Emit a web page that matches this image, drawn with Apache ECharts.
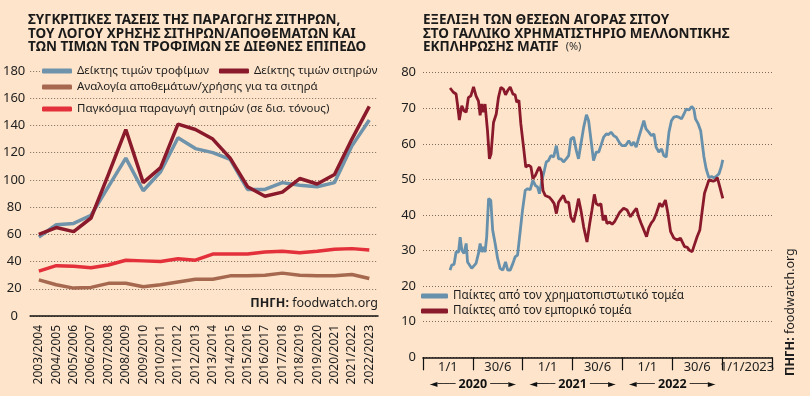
<!DOCTYPE html>
<html>
<head>
<meta charset="utf-8">
<script src="https://cdn.jsdelivr.net/npm/echarts@6/dist/echarts.min.js"></script>
<style>
html, body { margin: 0; background: #fde4ca; }
#main { width: 810px; height: 396px; }
</style>
</head>
<body>
<div id="main"></div>
<script>
// left chart: index values per season
var seasons = ['2003/2004', '2004/2005', '2005/2006', '2006/2007', '2007/2008', '2008/2009', '2009/2010',
	'2010/2011', '2011/2012', '2012/2013', '2013/2014', '2014/2015', '2015/2016', '2016/2017',
	'2017/2018', '2018/2019', '2019/2020', '2020/2021', '2021/2022', '2022/2023'];
var foodIndex = [58, 67, 68, 74, 95, 116, 92, 106, 131, 123, 120, 115, 93, 93, 98, 96, 95, 98, 125, 144];
var grainIndex = [60, 65, 62, 72, 104, 137, 98, 109, 141, 137, 130, 116, 95, 88, 91, 101, 97, 104, 130, 154];
var stocksRatio = [26.5, 23, 20.5, 21, 24, 24, 21.5, 23, 25, 27, 27, 29.5, 29.5, 30, 31.5, 30, 29.5, 29.5, 30.5, 27.5];
var production = [33, 37, 36.5, 35.5, 37.5, 41, 40.5, 40, 42, 41, 45.5, 45.5, 45.5, 47, 47.5, 46.5, 47.5, 49, 49.5, 48.5];

// right chart: days counted from 1/1/2020, share of positions (%)
var finDays = [99, 105, 114, 121, 130, 136, 142, 150, 158, 163, 170, 178, 185, 194, 203, 209, 215, 221, 227, 233,
	240, 248, 255, 264, 273, 282, 292, 302, 310, 319, 329, 337, 346, 356, 364, 374, 383, 392, 402, 411,
	419, 426, 435, 444, 451, 459, 468, 478, 488, 496, 505, 514, 524, 533, 541, 551, 561, 569, 578, 588,
	598, 606, 615, 624, 634, 643, 651, 661, 671, 679, 688, 698, 707, 720, 728, 741, 753, 763, 771, 780,
	790, 799, 808, 816, 826, 836, 845, 853, 863, 873, 881, 890, 900, 909, 918, 926, 936, 946, 955, 963,
	973, 983, 991, 997, 1007, 1016, 1022, 1028, 1036, 1046, 1056, 1064, 1073, 1083, 1091, 1097];
var finValues = [24.5, 25.9, 26.2, 29.6, 29.6, 33.8, 30.1, 29.2, 32, 26.8, 27.3, 25, 24.5, 26.4, 29.2, 32, 29.6, 31, 29.6, 33.8,
	44.6, 44.1, 35.7, 32, 27.8, 25, 24.5, 26.8, 24.5, 24.5, 26.4, 28.2, 28.7, 35.7, 41.3, 46.9, 47.4, 47.1, 49.7, 48.3,
	47.9, 46, 49.7, 52.5, 54.9, 55.3, 56.7, 56.3, 59.5, 55.8, 55.8, 54.9, 55.8, 56.7, 61.4, 61.9, 58.1, 55.8, 60, 64.7,
	68.2, 66.5, 60.9, 55.3, 57.7, 57.7, 59.5, 61.9, 62.8, 62.6, 63.3, 62.3, 61.9, 60.2, 59.5, 59.5, 60.9, 59.5, 60.5, 59.1,
	61.9, 64.2, 66.5, 64.2, 63.3, 62.3, 62.8, 59.1, 57.7, 58.6, 56.7, 56.3, 63.3, 66.5, 67.5, 67.7, 67.5, 67, 68.4, 69.8,
	69.5, 70.5, 69.8, 67, 65.6, 63.7, 60, 56.3, 53, 50.5, 50.8, 50.5, 50.8, 51.6, 53.5, 55.5];
var comDays = [99, 111, 121, 126, 133, 142, 150, 158, 166, 175, 185, 194, 203, 209, 215, 221, 227, 236, 243, 249,
	258, 268, 276, 285, 294, 302, 310, 319, 329, 337, 343, 351, 358, 368, 376, 386, 395, 402, 411, 419,
	426, 433, 439, 447, 453, 462, 472, 480, 488, 496, 505, 514, 523, 533, 541, 551, 561, 569, 578, 588,
	600, 610, 618, 627, 634, 643, 651, 659, 667, 673, 683, 692, 700, 710, 720, 734, 747, 759, 771, 781,
	789, 798, 808, 818, 826, 835, 844, 854, 866, 875, 887, 896, 906, 918, 930, 942, 949, 957, 967, 976,
	985, 993, 1003, 1013, 1022, 1030, 1040, 1046, 1052, 1062, 1070, 1077, 1086, 1097];
var comValues = [75.7, 74.5, 74, 71.2, 66.7, 70.7, 69.3, 68.9, 73, 73.5, 76, 73.5, 72, 68, 71.2, 68.9, 71.2, 63.7, 55.8, 57.2,
	66, 68.4, 73, 75.9, 75.4, 73.8, 75, 76, 74, 73.8, 71.7, 72.2, 65.6, 59, 53.5, 54, 53.5, 50.2, 51.1, 52.5,
	53.5, 52, 46.9, 45.5, 45.8, 45, 44.1, 43.2, 40.4, 43.6, 44.6, 45.5, 43.6, 43.6, 39.4, 38, 41.3, 44.6, 41.3, 36.6,
	32.4, 37.6, 41.3, 45.8, 43.2, 42.7, 43.2, 38.5, 39.9, 37.6, 38, 37.4, 38, 39.4, 40.8, 41.9, 41.4, 39.5, 40.9, 41.9,
	39.5, 37.7, 35.8, 33.9, 36.3, 37.7, 38.6, 40.5, 43.3, 42.3, 44.2, 40.5, 35.3, 33.5, 33, 33.5, 33.7, 31.1, 30.9, 30,
	29.7, 31.6, 33.9, 35.8, 41.4, 46.1, 48.4, 49.8, 49.3, 49.5, 49.8, 50.5, 47.9, 44.7];
var halfYearLabels = ['1/1', '30/6', '1/1', '30/6', '1/1', '30/6', '1/1/2023'];
var yearLabels = ['', '2020', '', '2021', '', '2022', '', ''];

var BG = '#fde4ca';
var FONT = 'Noto Sans';
var DAY0 = Date.UTC(2020, 0, 1);
var DAY = 86400000;

function toPairs(days, values) {
	var out = [];
	for (var i = 0; i < days.length; i++) {
		out.push([DAY0 + days[i] * DAY, values[i]]);
	}
	return out;
}

var gridLine = { show: true, lineStyle: { color: '#7d6b5d', type: [1, 2], width: 1 } };

var chart = echarts.init(document.getElementById('main'));

var option = {
	backgroundColor: BG,
	animation: false,
	textStyle: { fontFamily: FONT, color: '#1e1e1e' },
	title: [{
		text: 'ΣΥΓΚΡΙΤΙΚΕΣ ΤΑΣΕΙΣ ΤΗΣ ΠΑΡΑΓΩΓΗΣ ΣΙΤΗΡΩΝ,\nΤΟΥ ΛΟΓΟΥ ΧΡΗΣΗΣ ΣΙΤΗΡΩΝ/ΑΠΟΘΕΜΑΤΩΝ ΚΑΙ\nΤΩΝ ΤΙΜΩΝ ΤΩΝ ΤΡΟΦΙΜΩΝ ΣΕ ΔΙΕΘΝΕΣ ΕΠΙΠΕΔΟ',
		left: 28, top: 14, padding: 0,
		textStyle: { fontFamily: FONT, fontSize: 13.5, fontWeight: 'bold', lineHeight: 13.3, color: '#1a1a1a' }
	}, {
		text: 'ΕΞΕΛΙΞΗ ΤΩΝ ΘΕΣΕΩΝ ΑΓΟΡΑΣ ΣΙΤΟΥ\nΣΤΟ ΓΑΛΛΙΚΟ ΧΡΗΜΑΤΙΣΤΗΡΙΟ ΜΕΛΛΟΝΤΙΚΗΣ\nΕΚΠΛΗΡΩΣΗΣ MATIF  {p|(%)}',
		left: 423, top: 14, padding: 0,
		textStyle: {
			fontFamily: FONT, fontSize: 13.5, fontWeight: 'bold', lineHeight: 13.3, color: '#1a1a1a',
			rich: { p: { fontFamily: FONT, fontSize: 11, fontWeight: 'normal', color: '#333' } }
		}
	}, {
		text: '{b|ΠΗΓΗ:} foodwatch.org',
		right: 432, top: 297, padding: 0,
		textStyle: {
			fontFamily: FONT, fontSize: 12.5, fontWeight: 'normal', color: '#1e1e1e',
			rich: { b: { fontFamily: FONT, fontSize: 12.5, fontWeight: 'bold', color: '#1e1e1e' } }
		}
	}],
	legend: [{
		data: ['Δείκτης τιμών τροφίμων', 'Δείκτης τιμών σιτηρών'],
		left: 40, top: 65, padding: [0, 0, 0, 2], itemGap: 10,
		backgroundColor: BG,
		icon: 'roundRect', itemWidth: 30, itemHeight: 5,
		textStyle: { fontFamily: FONT, fontSize: 11.5, color: '#1e1e1e' }
	}, {
		data: ['Αναλογία αποθεμάτων/χρήσης για τα σιτηρά'],
		left: 40, top: 81, padding: [0, 0, 0, 2],
		icon: 'roundRect', itemWidth: 30, itemHeight: 5,
		textStyle: { fontFamily: FONT, fontSize: 11.5, color: '#1e1e1e' }
	}, {
		data: ['Παγκόσμια παραγωγή σιτηρών (σε δισ. τόνους)'],
		left: 40, top: 103, padding: [0, 0, 0, 2],
		icon: 'roundRect', itemWidth: 30, itemHeight: 5,
		textStyle: { fontFamily: FONT, fontSize: 11.5, color: '#1e1e1e' }
	}, {
		data: ['Παίκτες από τον χρηματοπιστωτικό τομέα', 'Παίκτες από τον εμπορικό τομέα'],
		orient: 'vertical', left: 421, top: 290, padding: 0, itemGap: 3,
		icon: 'roundRect', itemWidth: 27, itemHeight: 5,
		textStyle: { fontFamily: FONT, fontSize: 11.7, color: '#1e1e1e' }
	}],
	grid: [
		{ left: 30, right: 432, top: 71, bottom: 80 },
		{ left: 423, right: 38, top: 72.7, bottom: 38.7 }
	],
	xAxis: [{
		type: 'category', gridIndex: 0, data: seasons, boundaryGap: true, position: 'bottom',
		axisLine: { onZero: false, lineStyle: { color: '#111', width: 1.5 } },
		axisTick: { length: 69, lineStyle: { color: '#7d6b5d', type: [1, 2] } },
		axisLabel: { rotate: 90, margin: 9, fontSize: 12, color: '#1e1e1e', interval: 0 }
	}, {
		type: 'category', gridIndex: 1, data: halfYearLabels, boundaryGap: true, position: 'bottom',
		axisLine: { show: true, onZero: false, lineStyle: { color: '#111', width: 1.5 } },
		axisTick: { show: true, length: 13, lineStyle: { color: '#111', width: 1.2 } },
		axisLabel: { margin: 3, fontSize: 13, color: '#1e1e1e', interval: 0 }
	}, {
		type: 'time', gridIndex: 1, show: false, position: 'top',
		min: DAY0, max: Date.UTC(2023, 6, 1)
	}, {
		type: 'category', gridIndex: 1, data: yearLabels, boundaryGap: false, position: 'bottom',
		axisLine: { show: false, onZero: false }, axisTick: { show: false },
		axisLabel: {
			interval: 0, margin: 21,
			formatter: function (v) {
				return v ? '{a|◄───} {y|' + v + '} {a|───►}' : '';
			},
			rich: {
				a: { fontFamily: 'DejaVu Sans', fontSize: 10, color: '#111' },
				y: { fontFamily: FONT, fontSize: 12.5, fontWeight: 'bold', color: '#111' }
			}
		}
	}],
	yAxis: [{
		type: 'value', gridIndex: 0, min: 0, max: 180, interval: 20,
		axisLine: { show: false }, axisTick: { show: false },
		axisLabel: { margin: 16, align: 'center', fontSize: 13, color: '#1e1e1e' },
		splitLine: gridLine
	}, {
		type: 'value', gridIndex: 1, min: 0, max: 80, interval: 10,
		axisLine: { show: false }, axisTick: { show: false },
		axisLabel: { margin: 7, fontSize: 13, color: '#1e1e1e' },
		splitLine: gridLine
	}],
	series: [{
		name: 'Αναλογία αποθεμάτων/χρήσης για τα σιτηρά', type: 'line',
		xAxisIndex: 0, yAxisIndex: 0, data: stocksRatio,
		symbol: 'none', color: '#a6694f', lineStyle: { width: 3.5, color: '#a6694f' }
	}, {
		name: 'Παγκόσμια παραγωγή σιτηρών (σε δισ. τόνους)', type: 'line',
		xAxisIndex: 0, yAxisIndex: 0, data: production,
		symbol: 'none', color: '#e3303a', lineStyle: { width: 3.5, color: '#e3303a' }
	}, {
		name: 'Δείκτης τιμών τροφίμων', type: 'line',
		xAxisIndex: 0, yAxisIndex: 0, data: foodIndex,
		symbol: 'none', color: '#6e93aa', lineStyle: { width: 3.5, color: '#6e93aa' }
	}, {
		name: 'Δείκτης τιμών σιτηρών', type: 'line',
		xAxisIndex: 0, yAxisIndex: 0, data: grainIndex,
		symbol: 'none', color: '#8a1a2b', lineStyle: { width: 3.5, color: '#8a1a2b' }
	}, {
		name: 'Παίκτες από τον χρηματοπιστωτικό τομέα', type: 'line',
		xAxisIndex: 2, yAxisIndex: 1, data: toPairs(finDays, finValues),
		symbol: 'none', color: '#6690ab', lineStyle: { width: 2.8, color: '#6690ab' }
	}, {
		name: 'Παίκτες από τον εμπορικό τομέα', type: 'line',
		xAxisIndex: 2, yAxisIndex: 1, data: toPairs(comDays, comValues),
		symbol: 'none', color: '#8a1a2b', lineStyle: { width: 2.8, color: '#8a1a2b' }
	}],
	graphic: [{
		type: 'text', x: 790, y: 376, rotation: Math.PI / 2,
		style: {
			text: '{b|ΠΗΓΗ:} foodwatch.org',
			textAlign: 'left', textVerticalAlign: 'middle',
			font: '12.5px "Noto Sans"', fill: '#1e1e1e',
			rich: { b: { fontFamily: FONT, fontSize: 12.5, fontWeight: 'bold', fill: '#1e1e1e' } }
		}
	}]
};

chart.setOption(option);
</script>
</body>
</html>
